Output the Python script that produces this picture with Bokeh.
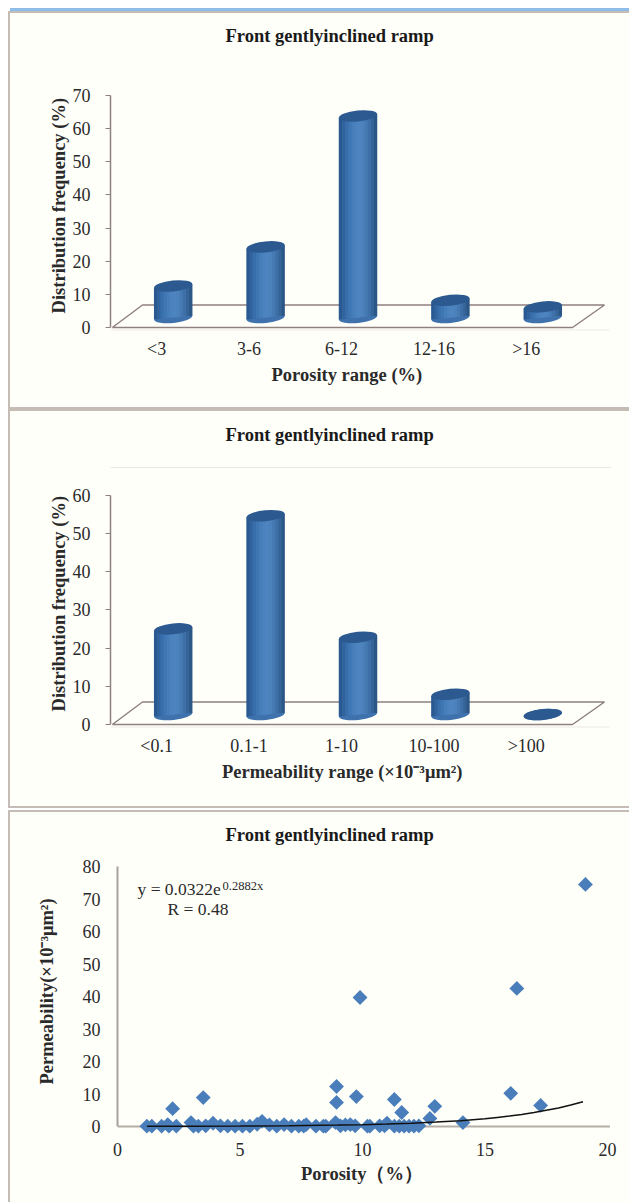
from math import pi
from bokeh.embed import file_html
from bokeh.resources import INLINE
from bokeh.layouts import column
from bokeh.models import FixedTicker, Label, Range1d, Title
from bokeh.plotting import figure

TITLE = "Front gentlyinclined ramp"
YLABEL = "Distribution frequency (%)"

por_cats = ["<3", "3-6", "6-12", "12-16", ">16"]
por_vals = [9.5, 21.3, 60.8, 5.2, 3.2]
perm_cats = ["<0.1", "0.1-1", "1-10", "10-100", ">100"]
perm_vals = [22.4, 52.0, 20.2, 5.3, 0.0]

sc_x_high = [19.1, 16.3, 9.9, 8.94, 8.94, 9.75, 11.3, 2.25, 3.5, 16.05, 17.27, 12.95, 11.6, 12.75, 14.1]
sc_y_high = [74.5, 42.5, 39.7, 12.3, 7.4, 9.2, 8.3, 5.5, 8.9, 10.2, 6.5, 6.2, 4.3, 2.5, 1.2]
sc_x_low = [1.2, 1.4, 1.8, 2.1, 2.4, 2.05, 3.0, 3.1, 3.3, 3.6, 3.9, 4.2, 4.5, 4.8, 5.1, 5.4, 5.7,
            5.9, 6.2, 6.5, 6.8, 7.1, 7.4, 7.6, 7.7, 8.1, 8.4, 8.5, 8.9, 9.1, 9.3, 9.5, 9.7,
            10.2, 10.3, 10.7, 10.9, 11.0, 11.3, 11.5, 11.7, 11.9, 12.1, 12.3]
sc_y_low = [0.1, 0.1, 0.1, 0.1, 0.1, 0.6, 1.2, 0.1, 0.1, 0.2, 1.0, 0.2, 0.1, 0.1, 0.1, 0.1, 0.7,
            1.6, 0.5, 0.1, 0.6, 0.1, 0.1, 0.1, 0.6, 0.1, 0.1, 0.1, 1.2, 0.2, 0.5, 0.6, 0.2,
            0.1, 0.1, 0.2, 0.2, 1.0, 0.1, 0.1, 0.1, 0.1, 0.1, 0.2]
trend_x = [1.2, 3, 5, 7, 9, 10, 11, 12, 13, 14, 15, 15.5, 16, 16.5, 17, 17.5, 18, 18.5, 19]
trend_y = [0.05, 0.08, 0.14, 0.24, 0.43, 0.57, 0.76, 1.02, 1.35, 1.8, 2.4, 2.8, 3.2, 3.7, 4.3, 5.0, 5.7, 6.6, 7.6]

SERIF = "Liberation Serif"
AXC = "#8f8080"
TXT = "#2a2a2a"
STRIPS = ["#2a5890", "#31649f", "#386eab", "#3f77b4", "#467eba", "#4b83bf", "#4e85c0",
          "#4c82bc", "#467ab3", "#3e70a7", "#356498", "#2c5685"]
PANEL_L = 10
RING = "0 0 0 2px #c5bdb5"
BG = "#fffffa"
NB = "\u00a0"


def panel_styles(bar=False):
    shadow = RING + (", 0 -5px 0 0 #8fbde9" if bar else "")
    return {"background-color": BG, "box-shadow": shadow}


def style_axes(p, xlabel, ylabel, lab_size, tick_size):
    for ax in (p.xaxis[0], p.yaxis[0]):
        ax.axis_label = xlabel if ax is p.xaxis[0] else ylabel
        ax.axis_label_text_font = SERIF
        ax.axis_label_text_font_style = "bold"
        ax.axis_label_text_font_size = lab_size
        ax.axis_label_text_color = TXT
        ax.major_label_text_font = SERIF
        ax.major_label_text_font_size = tick_size
        ax.major_label_text_color = TXT
        ax.minor_tick_line_color = None
    p.grid.visible = False
    p.outline_line_color = None


def bar_chart(T, H, y0, scale, ymax, cats, vals, xlabel, margin, frame_top, bar=False, wall_top=None):
    pad = 4
    ppu = 92.4
    x_end = (629 - 110) / ppu
    p = figure(width=629 - PANEL_L, height=H, output_backend="svg", toolbar_location=None,
               x_range=Range1d(0, x_end), y_range=Range1d(-pad / scale, (y0 - frame_top) / scale),
               min_border_left=110 - PANEL_L, min_border_right=0,
               min_border_top=frame_top - T, min_border_bottom=T + H - (y0 + pad),
               background_fill_color=None, border_fill_color=None, frame_align=False,
               margin=margin, styles=panel_styles(bar))
    p.title = Title(text=TITLE, align="left", offset=115, text_font=SERIF, text_font_style="bold",
                    text_font_size="18.5px", text_color="#1a1a1a", standoff=4)
    style_axes(p, xlabel, YLABEL + NB * 7, "18.5px", "18px")

    p.xaxis.ticker = FixedTicker(ticks=[i + 0.5 for i in range(5)])
    p.xaxis.major_label_overrides = {i + 0.5: c for i, c in enumerate(cats)}
    p.xaxis.axis_line_color = None
    p.xaxis.major_tick_line_color = None
    p.xaxis.major_label_standoff = 1
    p.xaxis.axis_label_standoff = 3
    p.xaxis.bounds = (0, 5.13)

    p.yaxis.ticker = FixedTicker(ticks=list(range(0, ymax + 1, 10)))
    p.yaxis.bounds = (0, ymax)
    p.yaxis.axis_line_color = AXC
    p.yaxis.axis_line_width = 1.5
    p.yaxis.major_tick_line_color = AXC
    p.yaxis.major_tick_in = 0
    p.yaxis.major_tick_out = 5
    p.yaxis.major_label_standoff = 15
    p.yaxis.axis_label_standoff = 1

    # floor of the 3D plot
    dx, dy = 32 / ppu, 22.5 / scale
    p.line([0.02, 5, 5 + dx, dx, 0.02], [0, 0, dy, dy, 0], line_color=AXC, line_width=1.5)
    p.line([0, 5.4], [-2.5 / scale] * 2, line_color="#ece9e2", line_width=1)
    if wall_top:
        top = (y0 - wall_top) / scale
        p.line([-0.03, -0.03, 5.42], [0, top, top], line_color="#ece9e2", line_width=1)

    # cylinders
    off = 10 / scale
    w = 38.5 / ppu
    tilt = 0.1
    n = len(STRIPS)
    for i, v in enumerate(vals):
        cx = i + 0.5 + 16.5 / ppu
        p.ellipse([cx], [off], width=38.5, height=11, angle=tilt, width_units="screen",
                  height_units="screen", fill_color="#3f72ad", line_color=None)
        if v > 0:
            for k in range(n):
                l = cx - w / 2 + w * k / n
                r = l + w / n * (1 if k == n - 1 else 1.6)
                m = (l + w / n / 2) - cx
                sl = tilt * m * ppu / scale
                p.quad(left=[l], right=[r], bottom=[off + sl], top=[off + v + sl],
                       fill_color=STRIPS[k], line_color=None)
        p.ellipse([cx], [off + v], width=38.5, height=11, angle=tilt, width_units="screen",
                  height_units="screen", fill_color="#2c5a90", line_color=None)
    return p


p1 = bar_chart(13, 394, 327, 232 / 70, 70, por_cats, por_vals, "Porosity range (%)" + NB * 10,
               (13, 0, 0, PANEL_L), 47, bar=True)
p2 = bar_chart(411, 395, 724, 229.3 / 60, 60, perm_cats, perm_vals,
               "Permeability range (×10⁻³μm²)" + NB * 12, (4, 0, 0, PANEL_L), 446, wall_top=467)

# scatter panel
T3, H3 = 812, 390
y0, sy, sx = 1126, 3.25, 24.5
frame_top = 846
pad = 10
p3 = figure(width=629 - PANEL_L, height=H3, output_backend="svg", toolbar_location=None,
            x_range=Range1d(0, (629 - 117) / sx), y_range=Range1d(-pad / sy, (y0 - frame_top) / sy),
            min_border_left=117 - PANEL_L, min_border_right=0, min_border_top=frame_top - T3,
            min_border_bottom=T3 + H3 - (y0 + pad), background_fill_color=None,
            border_fill_color=None, frame_align=False, margin=(6, 0, 0, PANEL_L), styles=panel_styles())
p3.title = Title(text=TITLE, align="left", offset=108, text_font=SERIF, text_font_style="bold",
                 text_font_size="18.5px", text_color="#1a1a1a", standoff=4)
style_axes(p3, "Porosity（%）" + NB * 5, "Permeability(×10⁻³μm²)", "18.5px", "18px")
p3.xaxis.ticker = FixedTicker(ticks=[0, 5, 10, 15, 20])
p3.xaxis.axis_line_color = None
p3.xaxis.major_tick_line_color = None
p3.xaxis.major_label_standoff = 0
p3.xaxis.axis_label_standoff = 5
p3.yaxis.ticker = FixedTicker(ticks=list(range(0, 81, 10)))
p3.yaxis.bounds = (0, 80)
p3.yaxis.axis_line_color = "#a89f98"
p3.yaxis.axis_line_width = 2
p3.yaxis.major_tick_line_color = None
p3.yaxis.major_label_standoff = 11
p3.yaxis.axis_label_standoff = 23
p3.line([0, 20.1], [0, 0], line_color="#b5ada6", line_width=2)
p3.scatter(sc_x_low + sc_x_high, sc_y_low + sc_y_high, marker="square", size=10.5, angle=pi / 4,
           fill_color="#4a7ebb", line_color=None)
p3.line(trend_x, trend_y, line_color="#111111", line_width=1.5)
for txt, x, y, size in [("y = 0.0322e", 137, 888, "17.5px"), ("0.2882x", 222, 885, "12.5px"),
                        ("R = 0.48", 167, 908, "17.5px")]:
    p3.add_layout(Label(x=x - PANEL_L, y=y - T3, x_units="canvas", y_units="canvas", text=txt,
                        text_font=SERIF, text_font_size=size, text_color=TXT,
                        text_baseline="middle"))

open("out.html", "w").write(file_html(column(p1, p2, p3, spacing=0), INLINE))
